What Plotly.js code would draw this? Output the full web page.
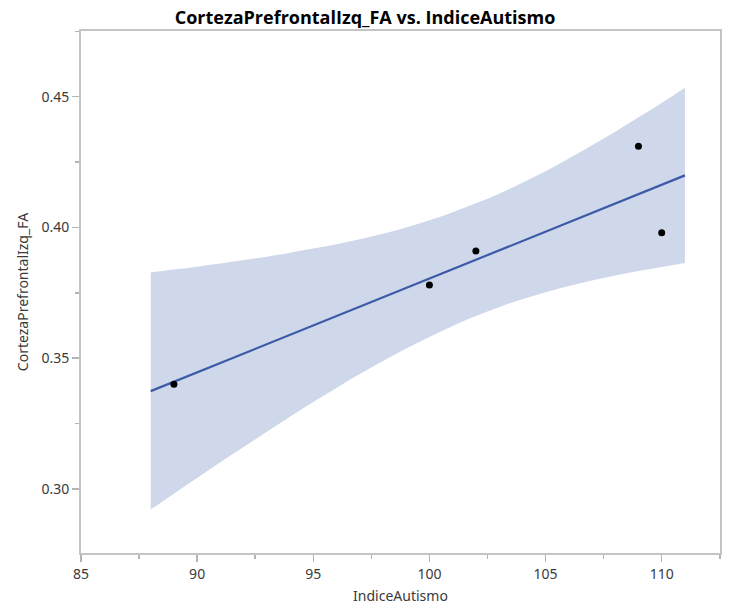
<!DOCTYPE html>
<html>
<head>
<meta charset="utf-8">
<script src="https://cdn.plot.ly/plotly-3.0.1.min.js"></script>
<style>html,body{margin:0;padding:0;background:#fff;}#chart{width:730px;height:607px;}</style>
</head>
<body>
<div id="chart"></div>
<script>
// Observed points
const indiceAutismo = [89, 100, 102, 109, 110];
const cortezaFA = [0.340, 0.378, 0.391, 0.431, 0.398];

// Fit line and confidence band
const bandX = [88, 89, 90, 91, 92, 93, 94, 95, 96, 97, 98, 99, 100, 101, 102, 103, 104, 105, 106, 107, 108, 109, 110, 111];
const bandLower = [0.2921, 0.2982, 0.3042, 0.3102, 0.3160, 0.3219, 0.3276, 0.3332, 0.3386, 0.3439, 0.3489, 0.3537, 0.3581, 0.3623, 0.3661, 0.3695, 0.3725, 0.3752, 0.3776, 0.3797, 0.3816, 0.3833, 0.3849, 0.3864];
const bandUpper = [0.3828, 0.3839, 0.3850, 0.3862, 0.3875, 0.3888, 0.3903, 0.3919, 0.3936, 0.3955, 0.3976, 0.4000, 0.4027, 0.4058, 0.4092, 0.4129, 0.4171, 0.4215, 0.4263, 0.4314, 0.4366, 0.4421, 0.4476, 0.4534];
const fitX = [88, 111];
const fitY = [0.3374, 0.4199];

const xTicks = [85, 90, 95, 100, 105, 110];
const yTicks = [0.30, 0.35, 0.40, 0.45];

const traces = [
  {x: bandX, y: bandLower, type: 'scatter', mode: 'lines', line: {width: 0, color: 'rgba(0,0,0,0)', shape: 'spline'}, hoverinfo: 'skip', showlegend: false},
  {x: bandX, y: bandUpper, type: 'scatter', mode: 'lines', fill: 'tonexty', fillcolor: '#cfd8ea', line: {width: 0, color: 'rgba(0,0,0,0)', shape: 'spline'}, hoverinfo: 'skip', showlegend: false},
  {x: fitX, y: fitY, type: 'scatter', mode: 'lines', line: {color: '#3b5aa7', width: 2.2}, showlegend: false},
  {x: indiceAutismo, y: cortezaFA, type: 'scatter', mode: 'markers', marker: {color: '#000', size: 7}, showlegend: false}
];

const fam = 'Noto Sans, Open Sans, sans-serif';
const axisFont = {family: fam, size: 14, color: '#3a3a3a'};

const layout = {
  width: 730, height: 607,
  margin: {l: 81, r: 10, t: 31, b: 54},
  paper_bgcolor: '#fff', plot_bgcolor: '#fff',
  title: {text: '<b>CortezaPrefrontalIzq_FA vs. IndiceAutismo</b>', x: 0.5, xref: 'container', xanchor: 'center',
          y: 0.982, yref: 'container', yanchor: 'top',
          font: {family: 'Open Sans, Noto Sans, sans-serif', size: 18, color: '#000'}},
  xaxis: {
    range: [85, 112.51], tickvals: xTicks, ticktext: xTicks.map(String),
    showgrid: false, zeroline: false, showline: true, mirror: true, linecolor: '#c4c4c4', linewidth: 2,
    ticks: 'outside', ticklen: 7, tickcolor: '#b4b4b4', tickwidth: 1.5,
    minor: {dtick: 2.5, tick0: 85, ticks: 'outside', ticklen: 4, tickcolor: '#b4b4b4', tickwidth: 1.5, showgrid: false},
    tickfont: axisFont,
    title: {text: 'IndiceAutismo', font: {family: fam, size: 14, color: '#3a3a3a'}, standoff: 9}
  },
  yaxis: {
    range: [0.2755, 0.4751], tickvals: yTicks, ticktext: yTicks.map(v => v.toFixed(2)),
    showgrid: false, zeroline: false, showline: true, mirror: true, linecolor: '#c4c4c4', linewidth: 2,
    ticks: 'outside', ticklen: 7, tickcolor: '#b4b4b4', tickwidth: 1.5,
    minor: {dtick: 0.025, tick0: 0.3, ticks: 'outside', ticklen: 4, tickcolor: '#b4b4b4', tickwidth: 1.5, showgrid: false},
    tickfont: axisFont,
    title: {text: 'CortezaPrefrontalIzq_FA', font: {family: fam, size: 14, color: '#3a3a3a'}, standoff: 10}
  }
};

Plotly.newPlot('chart', traces, layout, {staticPlot: true, displayModeBar: false});
</script>
</body>
</html>
